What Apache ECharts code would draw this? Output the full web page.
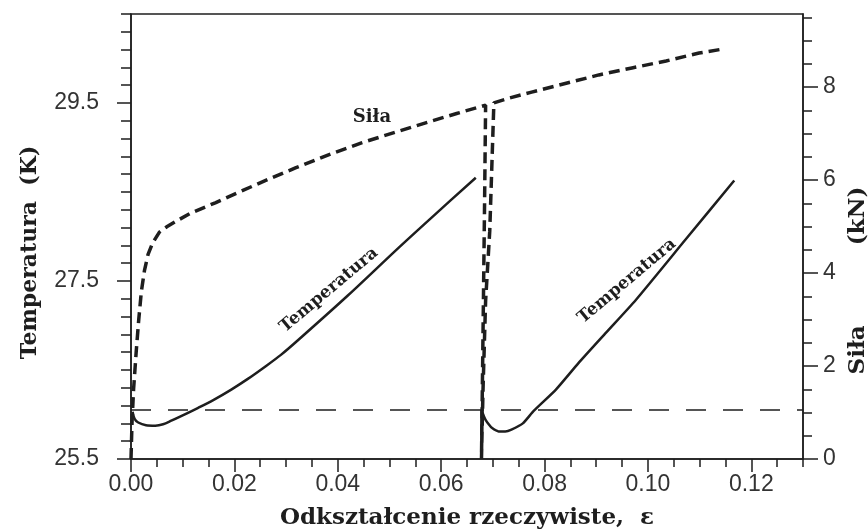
<!DOCTYPE html>
<html>
<head>
<meta charset="utf-8">
<title>Temperatura i siła</title>
<script src="https://cdn.jsdelivr.net/npm/echarts@6/dist/echarts.min.js"></script>
<style>
  html, body { margin: 0; background: #fff; }
  #chart { width: 868px; height: 530px; }
</style>
</head>
<body>
<div id="chart"></div>
<script>
// tick labels
const strainTicks = [0, 0.02, 0.04, 0.06, 0.08, 0.10, 0.12]
const tempTicks = [25.5, 27.5, 29.5]
const forceTicks = [0, 2, 4, 6, 8]

// Temperatura, pierwszy etap rozciagania
const strainT1 = [0.0003, 0.0007, 0.0014, 0.0029, 0.0047, 0.0062, 0.0078, 0.0100, 0.0130, 0.0160, 0.0194, 0.0226, 0.0260, 0.0290, 0.0324, 0.0420, 0.0517, 0.0581, 0.0667]
const tempT1 = [26.03, 25.95, 25.91, 25.88, 25.875, 25.89, 25.93, 25.99, 26.075, 26.165, 26.28, 26.40, 26.54, 26.67, 26.84, 27.34, 27.87, 28.21, 28.66]

// Temperatura, drugi etap rozciagania
const strainT2 = [0.0678, 0.0678, 0.0682, 0.0686, 0.0692, 0.0698, 0.0711, 0.0724, 0.0736, 0.0758, 0.0779, 0.0822, 0.0866, 0.0919, 0.0977, 0.1072, 0.1167]
const tempT2 = [25.5, 26.05, 25.99, 25.94, 25.89, 25.85, 25.81, 25.81, 25.83, 25.90, 26.04, 26.28, 26.58, 26.92, 27.29, 27.96, 28.63]

// Siła (kN): obciazenie, odciazenie, ponowne obciazenie
const strainF = [0, 0.0002, 0.0005, 0.0010, 0.0015, 0.0020, 0.0026, 0.0033, 0.0042, 0.0055, 0.0070, 0.0090, 0.0116, 0.0163, 0.0207, 0.0252, 0.0318, 0.0382, 0.0446, 0.0512, 0.0576, 0.0630, 0.0686,
  0.0684, 0.0682, 0.0680, 0.0678,
  0.0681, 0.0686, 0.0694, 0.0702, 0.0731, 0.0775, 0.0828, 0.0905, 0.0969, 0.1035, 0.1099, 0.1147]
const forceKN = [0, 0.8, 1.5, 2.3, 3.0, 3.6, 4.05, 4.4, 4.65, 4.88, 5.0, 5.13, 5.29, 5.51, 5.73, 5.95, 6.26, 6.54, 6.80, 7.03, 7.25, 7.43, 7.61,
  5.5, 3.63, 1.8, 0,
  1.5, 3.4, 4.9, 7.66, 7.76, 7.89, 8.04, 8.26, 8.41, 8.56, 8.73, 8.82]

const refTemp = 26.05

const zip = (xs, ys) => xs.map((x, i) => [x, ys[i]])
// positions of the small ticks between labels
const steps = (from, to, step) => {
  const out = []
  for (let i = 0; from + i * step <= to + 1e-9; i++) out.push(+(from + i * step).toFixed(4))
  return out
}

const ink = '#1e1e1e'
const tickFont = { fontFamily: 'Liberation Sans', fontSize: 23, color: '#333' }
const titleFont = { fontFamily: 'DejaVu Serif', fontWeight: 'bold', fontSize: 22, color: ink }
const labelFont = 'bold 17px "DejaVu Serif"'
const tickLine = { color: ink, width: 1.5 }
const plotBox = { left: 131, right: 65, top: 14, bottom: 71, outerBoundsMode: 'none' }

const chart = echarts.init(document.getElementById('chart'))

// osie pomocnicze w drugiej siatce: tylko krotkie kreski
const minorAxis = (min, max, values, length, position) => ({
  type: 'value', gridIndex: 1, min, max, position,
  axisLine: { show: false },
  axisTick: { show: true, customValues: values, length, lineStyle: tickLine },
  axisLabel: { show: false },
  splitLine: { show: false }
})

chart.setOption({
  animation: false,
  backgroundColor: '#fff',
  grid: [
    Object.assign({ show: true, borderColor: ink, borderWidth: 1.5 }, plotBox),
    Object.assign({ show: false }, plotBox)
  ],
  xAxis: [
    {
      type: 'value', min: 0, max: 0.13, position: 'bottom',
      axisLine: { show: true, lineStyle: tickLine },
      axisTick: { show: true, customValues: strainTicks, length: 13, lineStyle: tickLine },
      axisLabel: Object.assign({ show: true, customValues: strainTicks, margin: 14, formatter: v => v.toFixed(2) }, tickFont),
      splitLine: { show: false },
      name: 'Odkształcenie rzeczywiste,  ε',
      nameLocation: 'middle', nameGap: 48,
      nameTextStyle: Object.assign({}, titleFont, { fontSize: 23 })
    },
    minorAxis(0, 0.13, steps(0, 0.13, 0.005), 8, 'bottom')
  ],
  yAxis: [
    {
      type: 'value', position: 'left', min: 25.5, max: 30.5,
      axisLine: { show: true, lineStyle: tickLine },
      axisTick: { show: true, customValues: tempTicks, length: 14, lineStyle: tickLine },
      axisLabel: Object.assign({ show: true, customValues: tempTicks, margin: 32, formatter: v => v.toFixed(1) }, tickFont),
      splitLine: { show: false },
      name: 'Temperatura  (K)',
      nameLocation: 'middle', nameRotate: 90, nameGap: 90,
      nameTextStyle: Object.assign({ padding: [0, 32, 0, 0] }, titleFont)
    },
    {
      type: 'value', position: 'right', min: 0, max: 9.57,
      axisLine: { show: true, lineStyle: tickLine },
      axisTick: { show: true, customValues: forceTicks, length: 15, lineStyle: tickLine },
      axisLabel: Object.assign({ show: true, customValues: forceTicks, margin: 20 }, tickFont),
      splitLine: { show: false },
      name: 'Siła          (kN)',
      nameLocation: 'middle', nameRotate: 90, nameGap: 42,
      nameTextStyle: Object.assign({ padding: [0, 88, 0, 0] }, titleFont, { fontSize: 23 })
    },
    minorAxis(25.5, 30.5, steps(25.5, 30.5, 0.2), 10, 'left'),
    minorAxis(0, 9.57, steps(0, 9.5, 0.5), 9, 'right')
  ],
  series: [
    {
      name: 'Temperatura', type: 'line', xAxisIndex: 0, yAxisIndex: 0,
      data: zip(strainT1, tempT1), symbol: 'none', smooth: 0.3,
      lineStyle: { color: ink, width: 2.5 },
      markLine: {
        silent: true, symbol: ['none', 'none'], label: { show: false },
        lineStyle: { color: ink, width: 1.5, type: [20, 17] },
        data: [{ yAxis: refTemp }]
      }
    },
    {
      name: 'Temperatura 2', type: 'line', xAxisIndex: 0, yAxisIndex: 0,
      data: zip(strainT2, tempT2), symbol: 'none', smooth: 0.2,
      lineStyle: { color: ink, width: 2.5 }
    },
    {
      name: 'Siła', type: 'line', xAxisIndex: 0, yAxisIndex: 1,
      data: zip(strainF, forceKN), symbol: 'none',
      lineStyle: { color: ink, width: 3.5, type: [11, 6] }
    }
  ],
  graphic: [
    {
      type: 'text', x: 372, y: 117,
      style: { text: 'Siła', font: 'bold 18px "DejaVu Serif"', fill: ink, align: 'center', verticalAlign: 'middle' }
    },
    {
      type: 'text', x: 329, y: 290, rotation: 40 * Math.PI / 180,
      style: { text: 'Temperatura', font: labelFont, fill: ink, align: 'center', verticalAlign: 'middle' }
    },
    {
      type: 'text', x: 627, y: 281, rotation: 40 * Math.PI / 180,
      style: { text: 'Temperatura', font: labelFont, fill: ink, align: 'center', verticalAlign: 'middle' }
    }
  ]
})
</script>
</body>
</html>
